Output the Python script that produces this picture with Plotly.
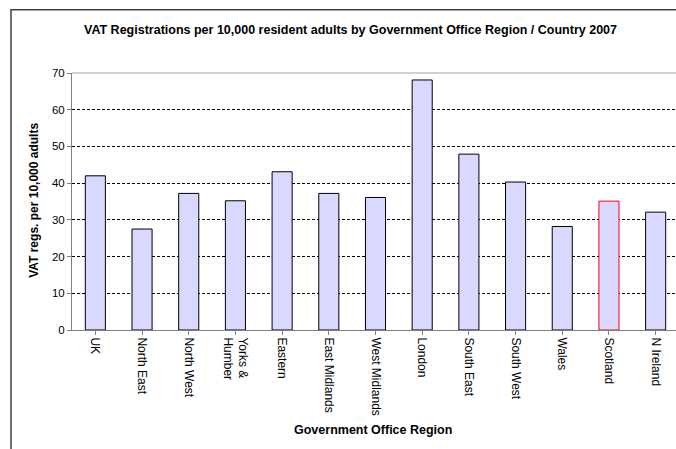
import plotly.graph_objects as go

categories = ["UK", "North East", "North West", "Yorks &<br>Humber", "Eastern", "East Midlands",
              "West Midlands", "London", "South East", "South West", "Wales", "Scotland", "N Ireland"]
values = [42.0, 27.5, 37.2, 35.2, 43.1, 37.2, 36.1, 68.1, 47.9, 40.3, 28.2, 35.1, 32.1]
border_colors = ["#000000"] * 11 + ["#FF0000", "#000000"]

W, H = 676, 449
L, R_EDGE, T, B = 72, 676, 73.3, 330
pw, ph = R_EDGE - L, B - T

def px(x):
    return (x - L) / pw

def py(y):
    return (B - y) / ph

fig = go.Figure(go.Bar(
    x=list(range(len(categories))), y=values,
    marker=dict(color="#D9D9FF", line=dict(color=border_colors, width=1)),
    width=0.43,
))

font = "Liberation Sans, Arial, sans-serif"
fig.update_layout(
    width=W, height=H,
    margin=dict(l=L, r=W - R_EDGE, t=T, b=H - B),
    paper_bgcolor="white", plot_bgcolor="white",
    showlegend=False,
    font=dict(family=font, size=11, color="#000000"),
    xaxis=dict(
        tickmode="array", tickvals=list(range(len(categories))), ticktext=categories,
        range=[-0.5, 12.5 - 3 / 46.7], tickangle=90,
        showgrid=False, showline=True, linecolor="#808080", linewidth=1,
        ticks="outside", ticklen=4, tickcolor="#808080", tickson="boundaries",
        tickfont=dict(size=12, color="#000000"), fixedrange=True,
    ),
    yaxis=dict(
        range=[0, 70], tickvals=[0, 10, 20, 30, 40, 50, 60, 70],
        showgrid=True, gridcolor="#000000", gridwidth=1, griddash="3px,2px",
        showline=True, linecolor="#808080", linewidth=1,
        ticks="outside", ticklen=4, tickcolor="#808080",
        tickfont=dict(size=11.5, color="#000000"), zeroline=False,
    ),
    shapes=[
        dict(type="line", xref="paper", yref="paper", x0=0, x1=1, y0=1, y1=1,
             line=dict(color="#A0A0B0", width=1)),
        dict(type="rect", xref="paper", yref="paper", x0=px(11), x1=px(720), y0=py(10), y1=py(480),
             line=dict(color="#404040", width=1.5), fillcolor="rgba(0,0,0,0)", layer="below"),
    ],
    annotations=[
        dict(text="<b>VAT Registrations per 10,000 resident adults by Government Office Region / Country 2007</b>",
             xref="paper", yref="paper", x=px(350), y=py(30), showarrow=False,
             xanchor="center", yanchor="middle", font=dict(size=12.5)),
        dict(text="<b>VAT regs. per 10,000 adults</b>", textangle=-90,
             xref="paper", yref="paper", x=px(34), y=py(201), showarrow=False,
             xanchor="center", yanchor="middle", font=dict(size=12)),
        dict(text="<b>Government Office Region</b>",
             xref="paper", yref="paper", x=px(373), y=py(430), showarrow=False,
             xanchor="center", yanchor="middle", font=dict(size=12.5)),
    ],
)

fig.write_html("out.html", config={"displayModeBar": False},
               post_script="document.body.style.margin='0';document.body.style.overflow='hidden';"
                           "document.documentElement.style.overflow='hidden';")
